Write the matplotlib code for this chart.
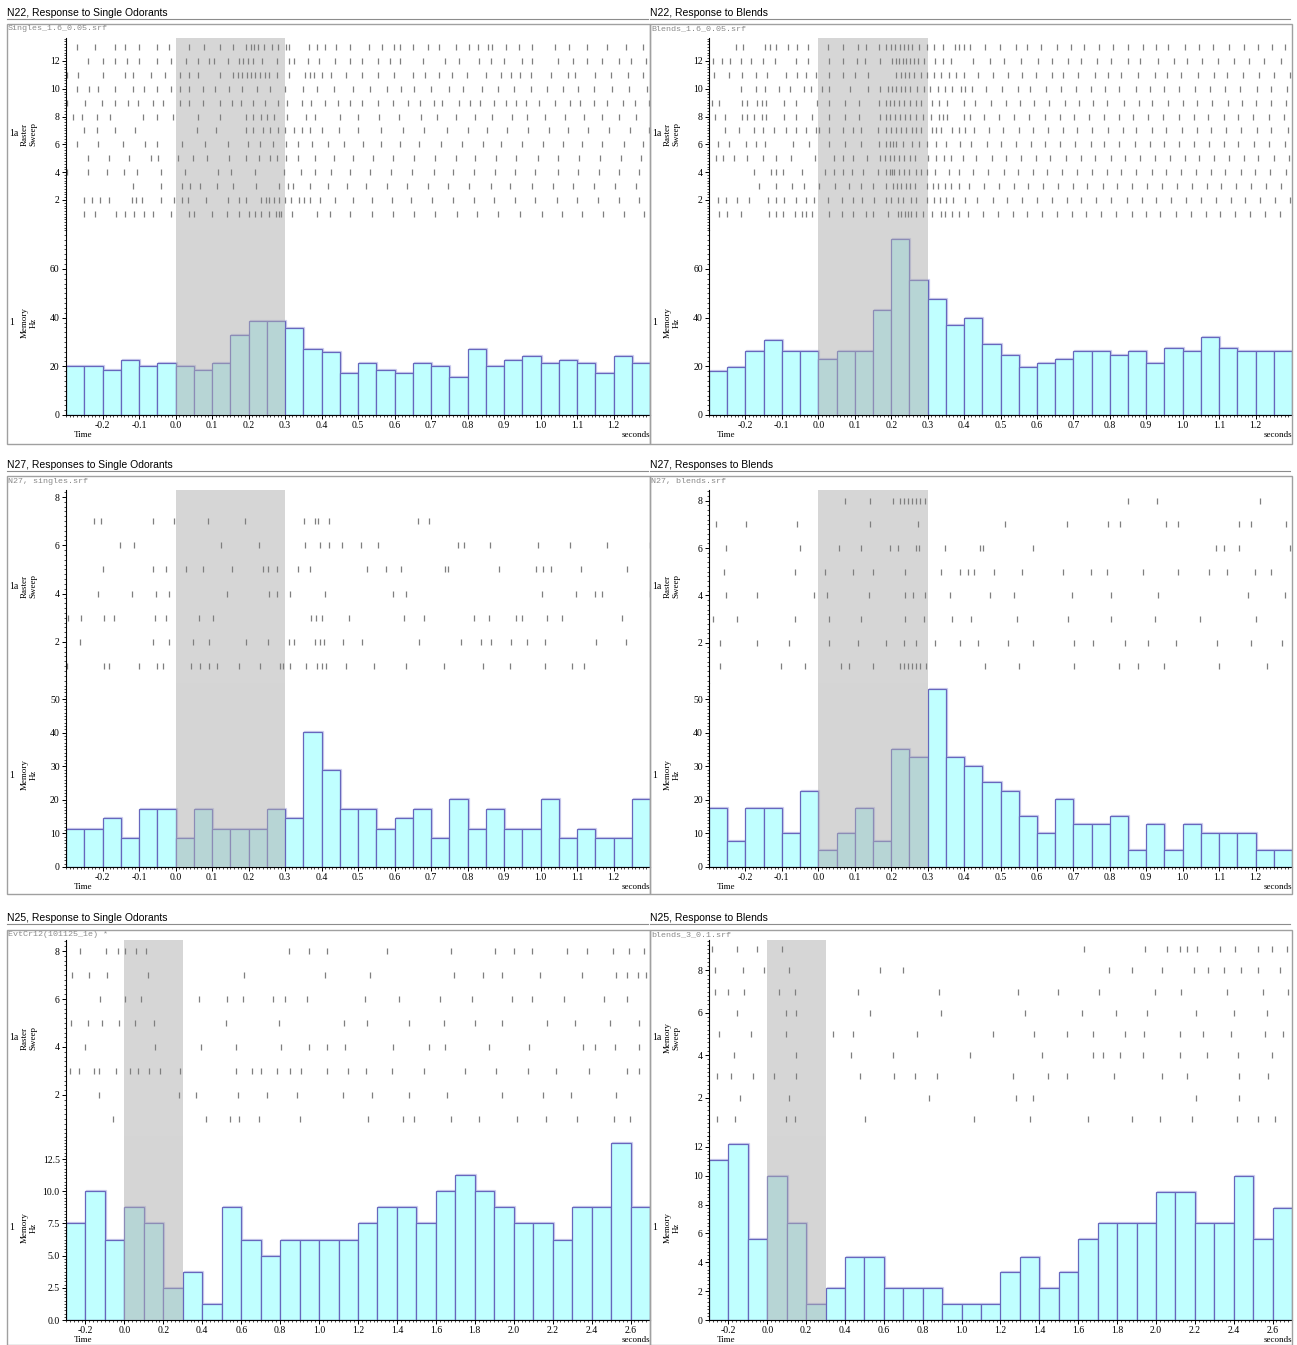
import matplotlib
matplotlib.use("Agg")
import matplotlib.pyplot as plt
import matplotlib.transforms as mtransforms
from matplotlib.ticker import MultipleLocator, FormatStrFormatter, FixedLocator
from matplotlib.patches import Rectangle
from matplotlib.lines import Line2D

SERIF = ['Liberation Serif', 'DejaVu Serif']
SANS = ['Liberation Sans', 'DejaVu Sans']
MONO = ['Liberation Mono', 'DejaVu Sans Mono']
plt.rcParams['font.family'] = SERIF

titles = ["N22, Response to Single Odorants", "N22, Response to Blends",
          "N27, Responses to Single Odorants", "N27, Responses to Blends",
          "N25, Response to Single Odorants", "N25, Response to Blends"]
file_names = ["Singles_1.6_0.05.srf", "Blends_1.6_0.05.srf",
              "N27, singles.srf", "N27, blends.srf",
              "EvtCr12(101125_1e) *", "blends_3_0.1.srf"]
raster_names = ["Raster\nSweep"] * 5 + ["Memory\nSweep"]

# PSTH rates (Hz), one value per bin starting at -0.3 s
hist_n22_singles = [20, 20, 18.6, 22.7, 20, 21.5, 20, 18.6, 21.5, 33, 38.8, 38.8,
                    35.9, 27.3, 25.9, 17.4, 21.5, 18.6, 17.4, 21.5, 20, 15.8, 27.3, 20,
                    22.7, 24.4, 21.5, 22.7, 21.5, 17.4, 24.4, 21.5]
hist_n22_blends = [18.1, 19.7, 26.3, 30.9, 26.3, 26.3, 23, 26.3, 26.3, 43.2, 72.4, 55.5,
                   47.7, 37, 39.9, 29.2, 24.7, 19.7, 21.4, 23, 26.3, 26.3, 24.7, 26.3,
                   21.4, 27.6, 26.3, 32.1, 27.6, 26.3, 26.3, 26.3]
hist_n27_singles = [11.4, 11.4, 14.5, 8.7, 17.2, 17.2, 8.7, 17.2, 11.4, 11.4, 11.4, 17.2,
                    14.5, 40.2, 28.9, 17.2, 17.2, 11.4, 14.5, 17.2, 8.7, 20.2, 11.4, 17.2,
                    11.4, 11.4, 20.2, 8.7, 11.4, 8.7, 8.7, 20.2]
hist_n27_blends = [17.7, 7.6, 17.7, 17.7, 10, 22.7, 5.1, 10, 17.7, 7.6, 35.2, 32.8,
                   52.9, 32.8, 30.2, 25.3, 22.7, 15.1, 10, 20.2, 12.7, 12.7, 15.1, 5.1,
                   12.7, 5.1, 12.7, 10, 10, 10, 5.1, 5.1]
hist_n25_singles = [7.5, 10, 6.25, 8.75, 7.5, 2.5, 3.75, 1.25, 8.75, 6.25, 5, 6.25,
                    6.25, 6.25, 6.25, 7.5, 8.75, 8.75, 7.5, 10, 11.25, 10, 8.75, 7.5,
                    7.5, 6.25, 8.75, 8.75, 13.75, 8.75]
hist_n25_blends = [11.1, 12.2, 5.6, 10, 6.7, 1.1, 2.2, 4.4, 4.4, 2.2, 2.2, 2.2,
                   1.1, 1.1, 1.1, 3.3, 4.4, 2.2, 3.3, 5.6, 6.7, 6.7, 6.7, 8.9,
                   8.9, 6.7, 6.7, 10, 5.6, 7.8]

# spike times (ms), one list per sweep, sweep 1 first
spikes_n22_singles = [
    [-251, -220, -163, -138, -113, -85, -63, -11, 36, 52, 99, 141, 174, 201, 218, 234, 256, 276, 284, 289, 320, 388,
     424, 479, 537, 595, 653, 711, 771, 827, 884, 945, 1003, 1058, 1113, 1171, 1229, 1284],
    [-251, -229, -207, -182, -118, -107, -91, -39, -3, 17, 33, 83, 143, 174, 193, 234, 248, 256, 270, 284, 300, 317, 339, 353, 369, 397,
     438, 485, 537, 592, 645, 703, 760, 818, 873, 931, 986, 1044, 1099, 1157, 1215, 1270],
    [-116, -39, 17, 39, 66, 113, 157, 220, 284, 309, 322, 369,
     419, 471, 521, 579, 634, 692, 747, 804, 865, 917, 978, 1033, 1088, 1146, 1204, 1262],
    [-298, -240, -187, -140, -105, -39, 25, 116, 152, 218, 298, 344, 383,
     427, 477, 532, 590, 647, 708, 760, 818, 876, 931, 986, 1047, 1102, 1160, 1215, 1270],
    [-240, -182, -127, -66, -47, 6, 47, 85, 146, 193, 229, 259, 278, 303, 336, 383,
     433, 485, 540, 595, 653, 711, 769, 821, 879, 934, 992, 1047, 1105, 1163, 1220, 1276],
    [-270, -212, -143, -83, -52, 19, 80, 143, 198, 231, 267, 303, 336, 375, 419,
     463, 515, 562, 614, 667, 727, 785, 843, 893, 948, 1006, 1061, 1113, 1168, 1229, 1281],
    [-251, -215, -165, -110, 58, 110, 193, 212, 240, 259, 281, 300, 325, 347, 369,
     402, 449, 501, 562, 623, 680, 744, 802, 854, 909, 967, 1022, 1074, 1130, 1187, 1245, 1298],
    [-281, -256, -215, -179, -88, -50, -8, 61, 121, 193, 212, 234, 251, 270, 306, 358, 383,
     452, 501, 557, 612, 672, 716, 769, 821, 868, 923, 964, 1011, 1066, 1119, 1168, 1215, 1262],
    [-298, -248, -201, -165, -129, -102, -63, -33, 11, 36, 74, 121, 154, 179, 212, 245, 281, 306, 347, 372, 410,
     444, 479, 512, 554, 595, 636, 669, 708, 730, 777, 807, 835, 873, 906, 934, 961, 997, 1041, 1080, 1108, 1146, 1182, 1226, 1259, 1298],
    [-270, -237, -212, -165, -116, -85, -50, -11, 11, 36, 74, 107, 146, 182, 223, 259, 300, 350, 388,
     435, 485, 532, 579, 617, 653, 700, 749, 788, 840, 884, 928, 973, 1017, 1063, 1102, 1146, 1196, 1243, 1292],
    [-298, -267, -198, -138, -116, -66, -30, 11, 36, 63, 121, 157, 171, 182, 196, 207, 218, 231, 245, 256, 278, 311, 355, 369, 380, 402,
     427, 468, 510, 554, 598, 650, 683, 722, 758, 799, 851, 893, 920, 945, 975, 1028, 1074, 1094, 1149, 1193, 1240, 1281],
    [-240, -198, -165, -132, -99, -50, -11, 30, 63, 91, 105, 143, 174, 185, 198, 212, 237, 278, 311, 325, 364, 394,
     438, 477, 512, 554, 587, 614, 678, 738, 777, 832, 865, 901, 950, 978, 1047, 1088, 1127, 1168, 1215, 1248, 1289],
    [-271, -220, -165, -138, -99, -50, -17, 36, 77, 121, 157, 193, 207, 215, 226, 242, 264, 281, 303, 311, 366, 388, 410,
     441, 477, 529, 565, 598, 614, 650, 691, 722, 769, 804, 829, 857, 868, 906, 942, 978, 1039, 1077, 1127, 1182, 1234, 1281],
]
spikes_n22_blends = [
    [-273, -250, -213, -135, -115, -98, -63, -45, -34, -16, 28, 65, 95, 131, 150, 191, 218, 228, 237, 246, 255, 269, 287, 313, 338, 347, 366, 387,
     410, 452, 493, 534, 573, 614, 656, 697, 736, 777, 818, 860, 898, 939, 981, 1022, 1063, 1102, 1143, 1185, 1226, 1267],
    [-275, -253, -222, -190, -137, -115, -94, -61, -34, -11, 26, 65, 95, 120, 154, 187, 200, 218, 232, 255, 267, 298, 317, 333, 350, 370, 402,
     435, 479, 518, 559, 601, 642, 683, 722, 763, 804, 846, 887, 928, 967, 1008, 1050, 1091, 1132, 1171, 1212, 1254, 1295],
    [-163, -117, -71, -39, 3, 47, 83, 118, 150, 187, 205, 216, 228, 242, 253, 264, 297, 315, 329, 347, 364, 387,
     413, 455, 496, 537, 576, 617, 658, 700, 738, 780, 821, 862, 901, 942, 984, 1025, 1066, 1105, 1146, 1187, 1229, 1270],
    [-176, -130, -117, -96, -45, 17, 42, 69, 93, 124, 163, 185, 196, 203, 209, 221, 234, 249, 267, 283, 298, 320, 359, 387,
     424, 466, 510, 548, 590, 628, 669, 711, 752, 791, 832, 871, 915, 953, 995, 1036, 1077, 1116, 1160, 1198, 1240, 1284],
    [-280, -261, -231, -195, -153, -117, -75, -9, 44, 69, 95, 134, 170, 182, 198, 209, 221, 235, 251, 264, 301, 324, 344, 363, 396,
     433, 477, 515, 557, 598, 636, 680, 722, 760, 802, 843, 882, 923, 964, 1006, 1044, 1085, 1127, 1168, 1207, 1251, 1292],
    [-275, -245, -199, -172, -146, -69, -25, 28, 74, 118, 166, 187, 196, 205, 214, 232, 258, 276, 297, 324, 350, 390,
     419, 463, 501, 543, 584, 623, 664, 705, 747, 785, 826, 868, 909, 948, 989, 1030, 1072, 1113, 1152, 1196, 1237, 1281],
    [-256, -218, -176, -152, -121, -89, -61, -34, -6, 3, 30, 67, 95, 116, 163, 185, 200, 214, 228, 242, 258, 269, 281, 311, 322, 338, 368, 387, 402,
     427, 468, 507, 551, 590, 631, 672, 711, 752, 796, 835, 873, 915, 953, 997, 1039, 1077, 1119, 1160, 1204, 1243, 1289],
    [-284, -256, -209, -195, -176, -155, -144, -94, -61, -16, 30, 72, 113, 168, 187, 198, 210, 223, 239, 251, 267, 287, 310, 331, 343, 354, 399,
     416, 455, 496, 537, 579, 623, 664, 703, 744, 785, 824, 865, 906, 945, 989, 1030, 1069, 1113, 1152, 1193, 1237, 1278],
    [-293, -273, -209, -195, -169, -155, -144, -94, -61, -4, 30, 74, 113, 166, 185, 198, 209, 221, 235, 251, 267, 283, 313, 331, 352, 400,
     430, 474, 515, 554, 592, 634, 678, 716, 755, 793, 838, 879, 917, 959, 1000, 1039, 1080, 1124, 1163, 1201, 1243, 1284],
    [-213, -172, -146, -107, -78, -40, -20, 10, 28, 87, 136, 168, 191, 203, 214, 226, 237, 251, 271, 290, 306, 329, 347, 368, 391, 402,
     422, 460, 504, 548, 581, 625, 667, 708, 747, 788, 824, 871, 909, 948, 989, 1033, 1074, 1116, 1157, 1204, 1243, 1287],
    [-287, -245, -209, -172, -142, -89, -59, -34, -6, 28, 69, 102, 135, 214, 227, 238, 249, 262, 281, 298, 318, 336, 359, 379, 399,
     438, 479, 521, 559, 598, 642, 672, 714, 758, 796, 832, 876, 923, 956, 995, 1041, 1085, 1121, 1165, 1209, 1251, 1295],
    [-289, -265, -241, -213, -185, -153, -118, -61, -29, 28, 67, 106, 129, 168, 202, 212, 221, 232, 242, 253, 262, 274, 290, 320, 341, 363,
     424, 471, 510, 557, 603, 642, 686, 722, 766, 802, 851, 884, 931, 975, 1011, 1052, 1096, 1141, 1182, 1223, 1270],
    [-227, -207, -146, -133, -115, -82, -58, -29, 27, 69, 108, 131, 166, 187, 200, 211, 223, 235, 246, 258, 276, 297, 317, 342, 375, 387, 399,
     416, 457, 499, 543, 573, 612, 656, 694, 730, 769, 810, 849, 890, 926, 961, 1006, 1044, 1083, 1127, 1168, 1207, 1245, 1281],
]
spikes_n27_singles = [
    [-297, -196, -182, -101, -50, -35, 43, 66, 92, 114, 174, 231, 285, 294, 314, 358, 388, 401, 413,
     466, 545, 631, 736, 843, 917, 1011, 1085, 1119],
    [-263, -62, -17, 48, 91, 193, 253, 310, 326, 383, 395, 406,
     460, 510, 667, 782, 838, 865, 920, 964, 1011, 1152, 1234],
    [-295, -258, -195, -169, -56, -26, 64, 103, 371, 386, 401,
     474, 625, 680, 818, 860, 934, 948, 1019, 1058, 1223],
    [-211, -119, -53, -18, 142, 257, 279, 314, 410,
     595, 631, 1003, 1096, 1149, 1168, 1300],
    [-198, -62, -26, 29, 75, 156, 241, 254, 279, 335, 369,
     526, 576, 617, 738, 747, 887, 989, 1006, 1028, 1110, 1237],
    [-152, -113, 126, 229, 355, 395, 420,
     457, 507, 554, 774, 790, 862, 994, 1080, 1182, 1300],
    [-224, -203, -62, -5, 89, 190, 353, 383, 390, 420, 664, 694],
]
spikes_n27_blends = [
    [-270, -102, -36, 61, 85, 149, 223, 234, 245, 256, 267, 278, 295, 457, 551, 703, 824, 876, 950, 1099, 1231],
    [-270, -168, -80, 28, 110, 187, 234, 267, 320, 388, 438, 521, 590, 703, 755, 843, 904, 981, 1094, 1187, 1273],
    [-289, -223, -63, 28, 118, 237, 289, 366, 419, 545, 686, 804, 923, 1047, 1201],
    [-253, -168, -11, 25, 138, 237, 259, 292, 361, 471, 537, 697, 804, 931, 1179, 1281],
    [-259, -63, 17, 94, 149, 237, 336, 388, 410, 427, 482, 559, 672, 749, 791, 890, 986, 1072, 1121, 1198, 1243],
    [-253, -50, 58, 116, 196, 220, 267, 275, 347, 444, 452, 590, 1091, 1113, 1154, 1295],
    [-281, -198, -58, 143, 273, 512, 683, 796, 829, 953, 986, 1154, 1187, 1284],
    [72, 143, 204, 223, 234, 245, 256, 267, 278, 292, 851, 929, 1212],
]
spikes_n25_singles = [
    [-56, 419, 544, 590, 692, 903, 1251, 1431, 1487, 1677, 1820, 2015, 2164, 2323, 2513, 2595],
    [-128, 282, 368, 586, 732, 886, 1123, 1272, 1462, 1656, 1938, 2149, 2292, 2523],
    [-278, -234, -154, -132, -43, 29, 68, 128, 185, 286, 573, 655, 701, 786, 851, 906, 1043,
     1149, 1241, 1374, 1538, 1749, 1908, 2072, 2215, 2385, 2580, 2646],
    [-202, 159, 393, 573, 803, 949, 1043, 1133, 1379, 1564, 1646, 1872, 2077, 2354, 2415, 2518, 2641],
    [-273, -188, -114, -29, 56, 150, 521, 795, 1128, 1246, 1462, 1641, 1800, 1938, 2169, 2313, 2492, 2641],
    [-125, 5, 86, 381, 527, 607, 764, 826, 940, 1236, 1410, 1620, 1785, 1990, 2092, 2256, 2462, 2580],
    [-268, -183, -91, 120, 615, 1031, 1262, 1692, 1841, 1938, 2133, 2349, 2523, 2580, 2636, 2682],
    [-227, -97, -34, 5, 60, 111, 846, 949, 1043, 1349, 1677, 1903, 2000, 2092, 2272, 2374, 2508, 2590, 2667],
]
spikes_n25_blends = [
    [-259, -166, 98, 145, 502, 1062, 1352, 1652, 1875, 2020, 2186, 2419, 2523, 2611],
    [-140, 114, 834, 1279, 1368, 2207, 2429],
    [-259, -186, -73, 36, 150, 477, 653, 761, 875, 1264, 1445, 1544, 1782, 2031, 2160, 2429, 2575],
    [-171, 150, 430, 648, 1041, 1414, 1678, 1730, 1813, 1932, 2124, 2264, 2424, 2595],
    [-249, -83, 98, 337, 440, 772, 1160, 1373, 1544, 1678, 1839, 1937, 2124, 2243, 2388, 2559, 2652],
    [-155, 98, 150, 528, 896, 1326, 1621, 1792, 1953, 2207, 2404, 2569],
    [-269, -202, -119, 62, 145, 466, 881, 1290, 1497, 1709, 1994, 2129, 2367, 2549, 2678],
    [-269, -124, -16, 114, 580, 699, 1756, 1875, 2031, 2196, 2269, 2352, 2435, 2523, 2637],
    [-285, -155, -52, 78, 1632, 1943, 2056, 2124, 2160, 2212, 2331, 2409, 2523, 2595, 2673],
]

hists = [hist_n22_singles, hist_n22_blends, hist_n27_singles,
         hist_n27_blends, hist_n25_singles, hist_n25_blends]
spikes = [spikes_n22_singles, spikes_n22_blends, spikes_n27_singles,
          spikes_n27_blends, spikes_n25_singles, spikes_n25_blends]

# axis set-up per panel
cfg = [
    dict(bw=0.05, xmax=1.3, xstep=0.1, xminor=0.01, hy=76.0, hstep=20, hminor=2, hfmt='%d', ry=(-0.16, 13.65), rt=[2, 4, 6, 8, 10, 12]),
    dict(bw=0.05, xmax=1.3, xstep=0.1, xminor=0.01, hy=76.0, hstep=20, hminor=2, hfmt='%d', ry=(-0.16, 13.65), rt=[2, 4, 6, 8, 10, 12]),
    dict(bw=0.05, xmax=1.3, xstep=0.1, xminor=0.01, hy=54.8, hstep=10, hminor=1, hfmt='%d', ry=(0.3, 8.29), rt=[2, 4, 6, 8]),
    dict(bw=0.05, xmax=1.3, xstep=0.1, xminor=0.01, hy=54.8, hstep=10, hminor=1, hfmt='%d', ry=(0.3, 8.45), rt=[2, 4, 6, 8]),
    dict(bw=0.1, xmax=2.7, xstep=0.2, xminor=0.02, hy=14.29, hstep=2.5, hminor=0.25, hfmt='%.1f', ry=(0.29, 8.46), rt=[2, 4, 6, 8]),
    dict(bw=0.1, xmax=2.7, xstep=0.2, xminor=0.02, hy=12.76, hstep=2, hminor=0.25, hfmt='%d', ry=(0.19, 9.43), rt=[2, 4, 6, 8]),
]

W, H = 1297, 1345
fig = plt.figure(figsize=(W / 100, H / 100), dpi=100)


def rect(x0, y0, x1, y1):
    return [x0 / W, 1 - y1 / H, (x1 - x0) / W, (y1 - y0) / H]


def ftext(x, y, s, **kw):
    fig.text(x / W, 1 - y / H, s, **kw)


def hline(x0, x1, y, **kw):
    fig.add_artist(Line2D([x0 / W, x1 / W], [1 - y / H, 1 - y / H],
                          transform=fig.transFigure, **kw))


cols = [(7, 650, 66), (650, 1292, 709)]
rows = [dict(head=13, box=(24, 444), rtop=38, rbot=230, hbot=415),
        dict(head=465, box=(476, 894), rtop=490, rbot=683, hbot=867),
        dict(head=918, box=(930, 1345), rtop=940, rbot=1136, hbot=1320)]

SHADE = '#d6d6d6'
for i in range(6):
    c = cfg[i]
    bx0, bx1, axx = cols[i % 2]
    r = rows[i // 2]
    by0, by1 = r['box']

    # header + frame
    ftext(bx0, r['head'], titles[i], family=SANS, fontsize=7.5, va='center')
    hline(bx0, bx1 - 2, r['head'] + 6, color='#8c8c8c', lw=0.8)
    fig.add_artist(Rectangle((bx0 / W, 1 - by1 / H), (bx1 - bx0) / W, (by1 - by0) / H,
                             transform=fig.transFigure, fill=False,
                             edgecolor='#a0a0a0', lw=1))
    ftext(bx0 + 1, by0 + 5, file_names[i], family=MONO, fontsize=6,
          color='#8a8a8a', va='center')

    # raster
    axr = fig.add_axes(rect(axx, r['rtop'], bx1, r['rbot']))
    axr.axvspan(0, 0.3, facecolor=SHADE, lw=0, zorder=0)
    for k, sw in enumerate(spikes[i]):
        axr.plot([t / 1000 for t in sw], [k + 1] * len(sw), ls='none', marker='|',
                 ms=4.2, mew=0.9, color='#7f7f7f', zorder=2)
    axr.set_xlim(-0.3, c['xmax'])
    axr.set_ylim(*c['ry'])
    axr.set_xticks([])
    axr.yaxis.set_major_locator(FixedLocator(c['rt']))
    axr.yaxis.set_minor_locator(MultipleLocator(0.2))
    axr.yaxis.set_major_formatter(FormatStrFormatter('%d'))
    for s in ['top', 'right', 'bottom']:
        axr.spines[s].set_visible(False)

    # histogram
    axh = fig.add_axes(rect(axx, r['rbot'], bx1, r['hbot']))
    vals = hists[i]
    edges = [-0.3 + k * c['bw'] for k in range(len(vals))]
    shadow = axh.transData + mtransforms.ScaledTranslation(1 / 100, 1 / 100, fig.dpi_scale_trans)
    axh.bar(edges, vals, width=c['bw'], align='edge', facecolor='none',
            edgecolor='#cfcfee', lw=0.9, zorder=1, transform=shadow)
    axh.bar(edges, vals, width=c['bw'], align='edge', facecolor='#c0ffff',
            edgecolor='#6767bd', lw=0.9, zorder=2)
    axh.axvspan(0, 0.3, facecolor='#b0b0b0', alpha=0.52, lw=0, zorder=3)
    axh.set_xlim(-0.3, c['xmax'])
    axh.set_ylim(0, c['hy'])
    xt = []
    v = -0.2
    while v < c['xmax'] - 0.05:
        xt.append(round(v, 2) + 0.0)
        v += c['xstep']
    axh.xaxis.set_major_locator(FixedLocator(xt))
    axh.xaxis.set_major_formatter(FormatStrFormatter('%.1f'))
    axh.xaxis.set_minor_locator(MultipleLocator(c['xminor']))
    axh.yaxis.set_major_locator(MultipleLocator(c['hstep']))
    axh.yaxis.set_minor_locator(MultipleLocator(c['hminor']))
    axh.yaxis.set_major_formatter(FormatStrFormatter(c['hfmt']))
    for s in ['top', 'right']:
        axh.spines[s].set_visible(False)

    for ax in (axr, axh):
        ax.set_facecolor('none')
        ax.tick_params(which='major', direction='out', length=3, width=0.7,
                       labelsize=7, pad=1.5)
        ax.tick_params(which='minor', direction='out', length=1.5, width=0.5)
        for s in ax.spines.values():
            s.set_linewidth(0.8)

    # side labels
    rmid = (r['rtop'] + r['rbot']) / 2
    hmid = (r['rbot'] + r['hbot']) / 2
    ftext(bx0 + 2, rmid, '1a', fontsize=7, va='center')
    ftext(bx0 + 22, rmid, raster_names[i], fontsize=6.5, rotation=90,
          ha='center', va='center', linespacing=1.1)
    ftext(bx0 + 2, hmid, '1', fontsize=7, va='center')
    ftext(bx0 + 22, hmid, 'Memory\nHz', fontsize=6.5, rotation=90,
          ha='center', va='center', linespacing=1.1)
    ftext(axx + 8, r['hbot'] + 20, 'Time', fontsize=6.5, va='center')
    ftext(bx1, r['hbot'] + 20, 'seconds', fontsize=6.5, va='center', ha='right')

fig.savefig('out.png', dpi=100)
